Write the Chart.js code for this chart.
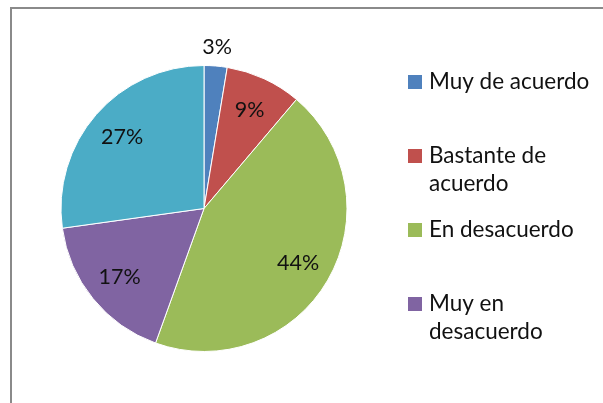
<!DOCTYPE html>
<html>
<head>
<meta charset="utf-8">
<script src="https://cdn.jsdelivr.net/npm/chart.js@4.4.1/dist/chart.umd.min.js"></script>
<style>
  html, body { margin: 0; padding: 0; background: #fff; overflow: hidden; }
  #wrap { position: relative; width: 603px; height: 403px; }
  #frame { position: absolute; left: 10px; top: 7px; width: 700px; height: 500px;
           border: 2px solid #8a8a8a; box-sizing: border-box; }
  canvas { position: absolute; left: 0; top: 0; }
</style>
</head>
<body>
<div id="wrap">
  <div id="frame"></div>
  <canvas id="pie" width="603" height="403"></canvas>
</div>
<script>
// data
const categories = ['Muy de acuerdo', 'Bastante de acuerdo', 'En desacuerdo', 'Muy en desacuerdo', 'Ni de acuerdo ni en desacuerdo'];
const values = [2.6, 8.6, 44.3, 17.3, 27.2];
const colors = ['#4F81BD', '#C0504D', '#9BBB59', '#8064A2', '#4BACC6'];
// legend text as wrapped in the picture (the 5th entry is cut off)
const legendLines = [['Muy de acuerdo'], ['Bastante de', 'acuerdo'], ['En desacuerdo'], ['Muy en', 'desacuerdo']];

const FONT = 'Lato, "Open Sans", sans-serif';

// percentage labels on the slices
const sliceLabels = {
    id: 'sliceLabels',
    afterDatasetsDraw(chart) {
        const ctx = chart.ctx;
        const meta = chart.getDatasetMeta(0);
        const data = chart.data.datasets[0].data;
        const total = data.reduce((a, b) => a + b, 0);
        ctx.save();
        ctx.font = '21.5px ' + FONT;
        ctx.fillStyle = '#111';
        ctx.textAlign = 'center';
        ctx.textBaseline = 'middle';
        meta.data.forEach((arc, i) => {
            const p = arc.getProps(['x', 'y', 'startAngle', 'endAngle', 'outerRadius'], true);
            const mid = (p.startAngle + p.endAngle) / 2;
            const pct = data[i] / total * 100;
            const r = pct < 5 ? p.outerRadius + 19 : p.outerRadius * 0.76;
            ctx.fillText(Math.round(pct) + '%', p.x + Math.cos(mid) * r, p.y + Math.sin(mid) * r);
        });
        ctx.restore();
    }
};

// legend on the right, Excel style
const sideLegend = {
    id: 'sideLegend',
    afterDraw(chart) {
        const ctx = chart.ctx;
        ctx.save();
        ctx.font = '22.5px ' + FONT;
        ctx.textBaseline = 'middle';
        legendLines.forEach((lines, i) => {
            const y = 82 + i * 74;
            ctx.fillStyle = colors[i];
            ctx.fillRect(408, y - 7, 14, 14);
            ctx.fillStyle = '#111';
            lines.forEach((t, j) => ctx.fillText(t, 429, y + j * 28));
        });
        ctx.restore();
    }
};

new Chart(document.getElementById('pie'), {
    type: 'pie',
    data: {
        labels: categories,
        datasets: [{
            data: values,
            backgroundColor: colors,
            borderColor: '#ffffff',
            borderWidth: 1,
            hoverOffset: 0,
            offset: 0
        }]
    },
    options: {
        responsive: false,
        animation: false,
        events: [],
        layout: { padding: { left: 60, top: 65, right: 255, bottom: 51 } },
        plugins: {
            legend: { display: false },
            tooltip: { enabled: false }
        }
    },
    plugins: [sliceLabels, sideLegend]
});
</script>
</body>
</html>
